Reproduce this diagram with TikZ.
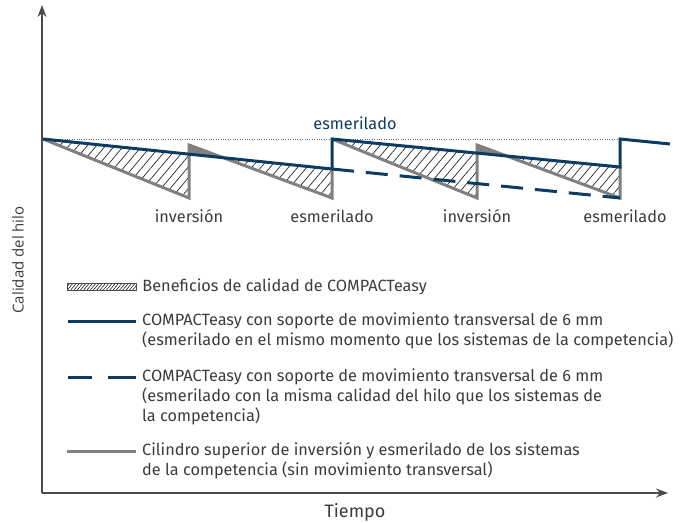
\documentclass[tikz,border=0pt]{standalone}
\usepackage{fontspec}
\setmainfont{Fira Sans}
\newfontfamily\axisfont{Open Sans}
\usetikzlibrary{arrows.meta, positioning, patterns.meta}
\definecolor{navy}{RGB}{12,60,98}
\definecolor{steel}{RGB}{128,128,128}
\definecolor{ink}{RGB}{60,60,60}

\begin{document}
\begin{tikzpicture}[x=1pt, y=-1pt]
\tikzstyle{blueline}=[navy, line width=3pt]
\tikzstyle{dashline}=[navy, line width=3pt, dash pattern=on 22pt off 12pt]
\tikzstyle{grayline}=[steel, line width=3pt]
\tikzstyle{hatch}=[pattern={Lines[angle=50, distance=7pt, line width=0.7pt]}, pattern color=black!85]
\tikzstyle{tag}=[text=ink, font=\fontsize{16.3}{20}\selectfont, inner sep=0pt]
\tikzstyle{legtext}=[tag, anchor=west, align=left]
\tikzstyle{axis}=[line width=1.3pt, black!70, -{Stealth[length=12pt, width=9pt]}]

\useasboundingbox (0,0) rectangle (685,522);

\coordinate (o) at (42,493);
\coordinate (ytop) at (42,5);
\coordinate (xend) at (668,493);

\coordinate (s0) at (43,139);
\coordinate (b1) at (189,154.2);
\coordinate (g1t) at (189,145);
\coordinate (g1b) at (189,198);
\coordinate (x1) at (223.5,157.8);
\coordinate (b2) at (332,169);
\coordinate (g2b) at (332,198);
\coordinate (s1) at (332,139);
\coordinate (b3) at (477,153.1);
\coordinate (g3t) at (477,145);
\coordinate (g3b) at (477,198);
\coordinate (x2) at (506.6,156);
\coordinate (b4) at (620,167);
\coordinate (g4b) at (620,198);
\coordinate (s2) at (620,139);
\coordinate (bend) at (670,144);

\fill [hatch] (s0) -- (b1) -- (g1b) -- cycle;
\fill [hatch] (x1) -- (b2) -- (g2b) -- cycle;
\fill [hatch] (s1) -- (b3) -- (g3b) -- cycle;
\fill [hatch] (x2) -- (b4) -- (g4b) -- cycle;
\fill [steel] (g1t) -- (b1) -- (x1) -- cycle;
\fill [steel] (g3t) -- (b3) -- (x2) -- cycle;

\draw [black!60, line width=0.8pt, dash pattern=on 0.8pt off 1.6pt] (s0) -- (s2);

\draw [grayline] (s0) -- (g1b) -- (g1t) -- (g2b) -- (b2);
\draw [grayline] (s1) -- (g3b) -- (g3t) -- (g4b) -- (b4);
\draw [dashline] (b2) -- (g4b);
\draw [blueline] (s0) -- (b2) -- (s1) -- (b4) -- (s2) -- (bend);

\node (esmtop) [tag, text=navy] at (355,123) {esmerilado};
\node (inv1) [tag] at (189,216) {inversión};
\node (esm1) [tag] at (332,216) {esmerilado};
\node (inv2) [tag] at (477,216) {inversión};
\node (esm2) [tag] at (625,216) {esmerilado};

\draw [axis] (o) -- (ytop);
\draw [axis] (o) -- (xend);
\node (yname) [tag, font=\axisfont\fontsize{15}{18}\selectfont, rotate=90] at (18,260) {Calidad del hilo};
\node (xname) [tag, font=\fontsize{18}{20}\selectfont] at (355,512) {Tiempo};

\node (swA) [draw=black!70, line width=0.6pt, pattern={Lines[angle=50, distance=2.5pt, line width=0.5pt]}, minimum width=69pt, minimum height=7pt, inner sep=0pt] at (101.5,287) {};
\node (legA) [legtext, right=6pt of swA] {Beneficios de calidad de COMPACTeasy};

\coordinate (swB1) at (68,321);
\coordinate (swB2) at (136,321);
\draw [blueline] (swB1) -- (swB2);
\node (legB) [legtext, right=6pt of swB2, yshift=-10pt] {COMPACTeasy con soporte de movimiento transversal de 6 mm\\(esmerilado en el mismo momento que los sistemas de la competencia)};

\coordinate (swC1) at (68,377);
\coordinate (swC2) at (136,377);
\draw [blueline, dash pattern=on 24pt off 16pt on 28pt off 0pt] (swC1) -- (swC2);
\node (legC) [legtext, right=6pt of swC2, yshift=-20pt] {COMPACTeasy con soporte de movimiento transversal de 6 mm\\(esmerilado con la misma calidad del hilo que los sistemas de\\la competencia)};

\coordinate (swD1) at (67,451);
\coordinate (swD2) at (136,451);
\draw [grayline] (swD1) -- (swD2);
\node (legD) [legtext, right=6pt of swD2, yshift=-10pt] {Cilindro superior de inversión y esmerilado de los sistemas\\de la competencia (sin movimiento transversal)};

\end{tikzpicture}
\end{document}
